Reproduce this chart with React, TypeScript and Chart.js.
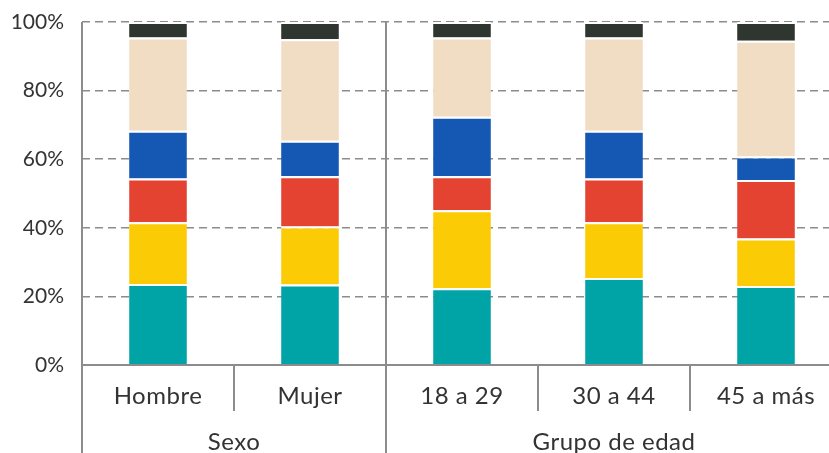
import React, { useEffect, useRef } from "react";
import { Chart, registerables } from "chart.js";

Chart.register(...registerables);

const categories = ["Hombre", "Mujer", "18 a 29", "30 a 44", "45 a más"];
const groupLabels = ["Sexo", "Grupo de edad"];
const groupSizes = [2, 3];
const yTicks = [0, 20, 40, 60, 80, 100];

const serie1 = [23.6, 23.5, 22.4, 25.4, 23.0];
const serie2 = [18.0, 16.9, 22.7, 16.2, 13.9];
const serie3 = [12.8, 14.6, 9.9, 12.8, 17.0];
const serie4 = [13.9, 10.4, 17.4, 13.9, 6.9];
const serie5 = [27.2, 29.6, 23.1, 27.2, 33.7];
const serie6 = [4.5, 5.0, 4.5, 4.5, 5.5];

const seriesNames = ["Serie 1", "Serie 2", "Serie 3", "Serie 4", "Serie 5", "Serie 6"];
const seriesData = [serie1, serie2, serie3, serie4, serie5, serie6];
const seriesColors = ["#00A4A7", "#FBCB05", "#E54332", "#1458B4", "#F1DDC4", "#2F362F"];

const LINE = "#8c8c8c";
const TEXT = "#333333";

const axisPlugin = {
  id: "twoLevelAxis",
  afterDraw(chart: any) {
    const { ctx, chartArea } = chart;
    const xs = chart.scales.x;
    const { left, right, top, bottom } = chartArea;
    const H = chart.height;
    const px = (i: number) => xs.getPixelForValue(i);
    const boundary = (i: number) => (px(i - 1) + px(i)) / 2;

    ctx.save();
    ctx.strokeStyle = LINE;
    ctx.lineWidth = 2;
    ctx.setLineDash([]);
    ctx.beginPath();
    ctx.moveTo(left, bottom);
    ctx.lineTo(right, bottom);
    ctx.stroke();
    ctx.beginPath();
    ctx.moveTo(left, top);
    ctx.lineTo(left, H);
    ctx.moveTo(right, top);
    ctx.lineTo(right, H);
    ctx.stroke();

    let idx = 0;
    groupSizes.forEach((size, g) => {
      const start = idx;
      const end = idx + size;
      for (let i = start + 1; i < end; i++) {
        const x = boundary(i);
        ctx.beginPath();
        ctx.moveTo(x, bottom);
        ctx.lineTo(x, bottom + 46);
        ctx.stroke();
      }
      if (g < groupSizes.length - 1) {
        const x = boundary(end);
        ctx.beginPath();
        ctx.moveTo(x, top);
        ctx.lineTo(x, H);
        ctx.stroke();
      }
      idx = end;
    });

    ctx.fillStyle = TEXT;
    ctx.font = "24px Lato";
    ctx.textAlign = "center";
    ctx.textBaseline = "alphabetic";
    (ctx as any).letterSpacing = "0.5px";
    categories.forEach((c, i) => {
      ctx.fillText(c, px(i), bottom + 39);
    });

    idx = 0;
    groupSizes.forEach((size, g) => {
      const xl = idx === 0 ? left : boundary(idx);
      const xr = idx + size >= categories.length ? right : boundary(idx + size);
      ctx.fillText(groupLabels[g], (xl + xr) / 2, H - 3);
      idx += size;
    });
    ctx.restore();
  },
};

export default function App() {
  const ref = useRef<HTMLCanvasElement>(null);

  useEffect(() => {
    if (!ref.current) return;
    const chart = new Chart(ref.current, {
      type: "bar",
      data: {
        labels: categories,
        datasets: seriesData.map((d, i) => ({
          label: seriesNames[i],
          data: d,
          backgroundColor: seriesColors[i],
          borderColor: "#ffffff",
          borderWidth: { top: 2, bottom: 0, left: 0, right: 0 },
          borderSkipped: false,
          barPercentage: 0.38,
          categoryPercentage: 1.0,
        })),
      },
      options: {
        responsive: false,
        animation: false,
        devicePixelRatio: 1,
        layout: { padding: { top: 22, right: 18, bottom: 88, left: 0 } },
        plugins: { legend: { display: false }, tooltip: { enabled: false } },
        scales: {
          x: { stacked: true, display: false },
          y: {
            stacked: true,
            min: 0,
            max: 100,
            afterBuildTicks: (scale: any) => {
              scale.ticks = yTicks.map((v) => ({ value: v }));
            },
            afterFit: (scale: any) => {
              scale.width = 82;
              scale.paddingTop = 0;
              scale.paddingBottom = 0;
            },
            ticks: {
              padding: 18,
              color: TEXT,
              font: { family: "Lato", size: 21 },
              callback: (v: any) => v + "%",
            },
            grid: {
              color: LINE,
              lineWidth: 1.6,
              drawTicks: false,
            },
            border: { display: false, dash: [8, 5] },
          },
        },
      },
      plugins: [axisPlugin],
    });
    return () => chart.destroy();
  }, []);

  return (
    <div
      style={{
        position: "fixed",
        left: 0,
        top: 0,
        width: 829,
        height: 453,
        overflow: "hidden",
        background: "#fff",
      }}
    >
      <canvas
        ref={ref}
        width={860}
        height={453}
        style={{ position: "absolute", left: 0, top: 0, width: 860, height: 453 }}
      />
    </div>
  );
}
